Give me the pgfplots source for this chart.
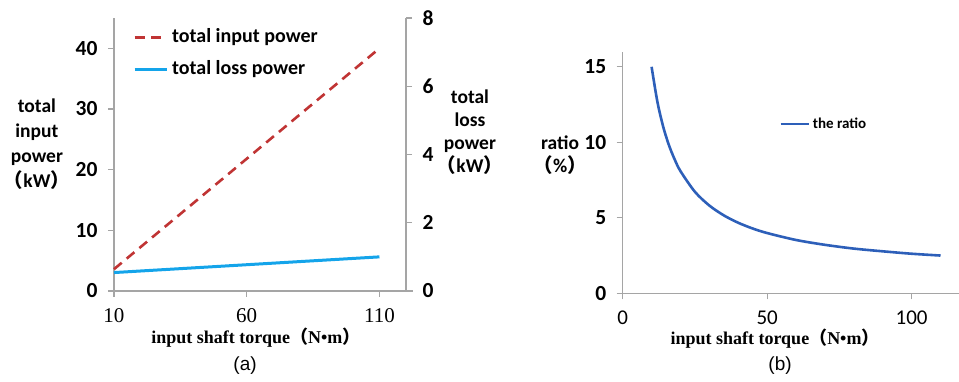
\documentclass[border=0pt]{standalone}
\usepackage{pgfplots}
\pgfplotsset{compat=1.18}
\usepackage{fontspec}
\setmainfont{Liberation Serif}
\newfontfamily\carlito{Carlito}
\newfontfamily\cjk{Noto Sans CJK SC}
\newfontfamily\arialf{Liberation Sans}
\definecolor{inred}{RGB}{192,52,52}
\definecolor{lossblue}{RGB}{20,164,234}
\definecolor{ratioblue}{RGB}{45,95,185}
\definecolor{axgray}{RGB}{165,165,165}
\pgfplotsset{
 base/.style={scale only axis, axis line style={draw=axgray,line width=1.2pt},
   tick style={draw=axgray, line width=1.2pt}, tick align=outside, major tick length=6pt,
   /pgf/number format/assume math mode=true, clip=false,
   yticklabel style={font=\carlito\bfseries\fontsize{21.5}{21.5}\selectfont, xshift=-7pt},
   xlabel style={font=\bfseries\fontsize{18}{18}\selectfont},
 },
}
\begin{document}
\begin{tikzpicture}[x=1pt,y=1pt]
\useasboundingbox (0,0) rectangle (959,382);
% ---------- panel (a), left axis
\begin{axis}[base, at={(114pt,91pt)}, anchor=south west, width=292pt, height=273pt,
  xmin=10, xmax=120, ymin=0, ymax=45,
  axis x line*=bottom, axis y line*=left,
  x axis line style={shorten >=-7pt},
  xtick={10,60,110}, ytick={0,10,20,30,40},
  xticklabel style={font=\fontsize{21}{21}\selectfont, yshift=-8pt},
  xlabel={input shaft torque{\cjk（}N•m{\cjk）}},
  xlabel style={at={(axis description cs:0.486,-0.172)}, anchor=center},
  ylabel={total\\input\\power\\{\cjk（}kW{\cjk）}},
  ylabel style={rotate=-90, at={(axis description cs:-0.264,0.537)}, anchor=center, align=center,
    font=\carlito\bfseries\fontsize{19.5}{25}\selectfont},
  legend style={at={(axis description cs:0.065,0.967)}, anchor=north west, draw=none, fill=none,
    inner sep=0pt, row sep=12pt, column sep=3pt,
    font=\carlito\bfseries\fontsize{20}{20}\selectfont,
    nodes={inner sep=1pt, text height=14pt, text depth=4pt}},
  legend cell align=left,
  legend image code/.code={\draw[#1] (0pt,0pt) -- (32pt,0pt);},
]
\addplot[inred, line width=2.6pt, dash pattern=on 10pt off 6.5pt] coordinates {(10,3.6) (110,40.0)};
\addlegendentry{total input power}
\addlegendimage{lossblue, line width=3pt}
\addlegendentry{total loss power}
\node[font=\arialf\fontsize{19}{19}\selectfont] at (axis description cs:0.449,-0.275) {(a)};
\end{axis}
% ---------- panel (a), right axis
\begin{axis}[base, at={(114pt,91pt)}, anchor=south west, width=292pt, height=273pt,
  xmin=10, xmax=120, ymin=0, ymax=8,
  axis x line=none, axis y line*=right,
  ytick={0,2,4,6,8},
  yticklabel style={xshift=14pt},
  ylabel={total\\loss\\power\\{\cjk（}kW{\cjk）}},
  ylabel style={rotate=-90, at={(axis description cs:1.219,0.581)}, anchor=center, align=center,
    font=\carlito\bfseries\fontsize{19.5}{23}\selectfont},
]
\addplot[lossblue, line width=3pt] coordinates {(10,0.54) (110,1.0)};
\end{axis}
% ---------- panel (b)
\begin{axis}[base, at={(622.7pt,88.7pt)}, anchor=south west, width=336.3pt, height=241.6pt,
  xmin=0, xmax=116.4, ymin=0, ymax=16,
  axis x line*=bottom, axis y line*=left,
  xtick={0,50,100}, ytick={0,5,10,15},
  xticklabel style={font=\carlito\fontsize{21}{21}\selectfont, yshift=-8pt},
  xlabel={input shaft torque{\cjk（}N•m{\cjk）}},
  xlabel style={at={(axis description cs:0.453,-0.189)}, anchor=center},
  ylabel={ratio\\{\cjk（}\%{\cjk）}},
  ylabel style={rotate=-90, at={(axis description cs:-0.186,0.570)}, anchor=center, align=center,
    font=\carlito\bfseries\fontsize{19.5}{23}\selectfont},
  legend style={at={(axis description cs:0.465,0.70)}, anchor=west, draw=none, fill=none,
    inner sep=0pt, column sep=2pt,
    font=\carlito\bfseries\fontsize{15}{15}\selectfont,
    nodes={inner sep=1pt}},
  legend cell align=left,
  legend image code/.code={\draw[#1] (0pt,0pt) -- (28pt,0pt);},
]
\addplot[ratioblue, line width=2.6pt, smooth] coordinates {
 (10,15.0) (12,12.69) (14,11.04) (16,9.81) (18,8.86) (20,8.09) (25,6.72) (30,5.81)
 (35,5.16) (40,4.67) (45,4.29) (50,3.99) (60,3.53) (70,3.21) (80,2.96) (90,2.78)
 (100,2.62) (110,2.50)};
\addlegendentry{the ratio}
\node[font=\arialf\fontsize{19}{19}\selectfont] at (axis description cs:0.468,-0.301) {(b)};
\end{axis}
\end{tikzpicture}
\end{document}
